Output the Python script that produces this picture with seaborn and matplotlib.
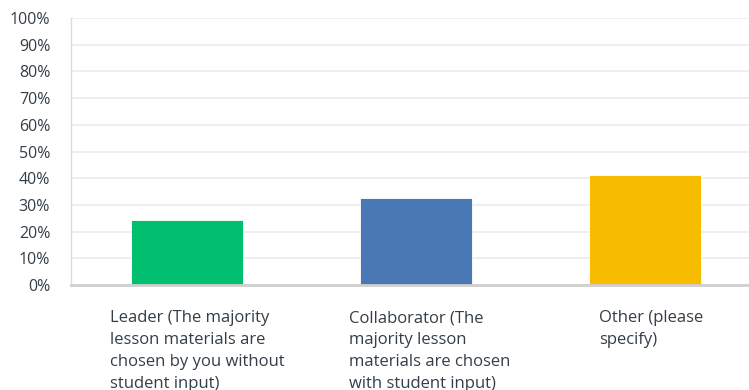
import matplotlib
matplotlib.use("Agg")
import matplotlib.pyplot as plt
import matplotlib.transforms as mtransforms
from matplotlib.ticker import PercentFormatter
import seaborn as sns
import pandas as pd

# Survey responses: share of respondents per role
categories = [
    "Leader (The majority\nlesson materials are\nchosen by you without\nstudent input)",
    "Collaborator (The\nmajority lesson\nmaterials are chosen\nwith student input)",
    "Other (please\nspecify)",
]
shares = [24.2, 32.6, 41.1]
bar_colors = ["#00BF6F", "#4A78B4", "#F7BC00"]
y_ticks = list(range(0, 101, 10))

sns.set_theme(style="white")
plt.rcParams["font.family"] = ["Open Sans", "DejaVu Sans"]

df = pd.DataFrame({"category": categories, "share": shares})

fig = plt.figure(figsize=(7.49, 3.90), dpi=100)
ax = fig.add_axes([71 / 749, 1 - 285 / 390, 1 - 71 / 749, (285 - 18) / 390])

sns.barplot(
    data=df, x="category", y="share", hue="category",
    palette=bar_colors, legend=False, width=0.49, ax=ax,
    saturation=1, edgecolor="white", linewidth=0.6,
)

ax.set_ylim(0, 100)
ax.set_xlim(-0.507, 2.454)
ax.set_yticks(y_ticks)
ax.yaxis.set_major_formatter(PercentFormatter(decimals=0))
ax.grid(axis="y", color="#ebebeb", linewidth=1.2, zorder=0)
ax.set_axisbelow(True)
ax.tick_params(axis="y", length=0, pad=15, labelsize=11.5, labelcolor="#333e48")
ax.tick_params(axis="x", length=0)
ax.set_xticklabels([])
ax.set_xlabel("")
ax.set_ylabel("")

for side in ["top", "right"]:
    ax.spines[side].set_visible(False)
ax.spines["left"].set_color("#dcdcdc")
ax.spines["left"].set_linewidth(1.0)
ax.spines["bottom"].set_color("#cfcfcf")
ax.spines["bottom"].set_linewidth(2.0)

# Category labels, left-aligned beneath each bar
label_offsets = [-0.336, -0.293, -0.20]
trans = mtransforms.blended_transform_factory(ax.transData, ax.transAxes)
for i, (text, off) in enumerate(zip(categories, label_offsets)):
    ax.text(i + off, -0.095, text, transform=trans, ha="left", va="top",
            fontsize=12, color="#333e48", linespacing=1.49)

fig.savefig("out.png", dpi=100)
